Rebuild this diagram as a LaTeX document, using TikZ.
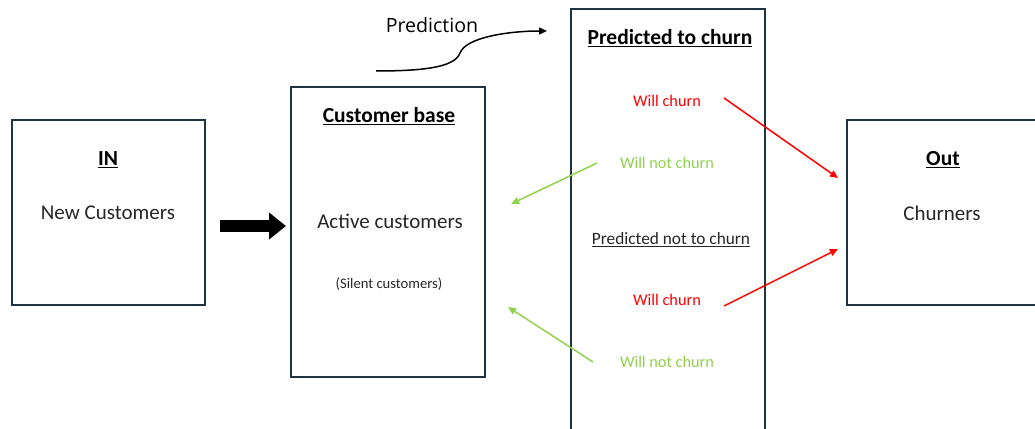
\documentclass[tikz,border=0pt]{standalone}
\usepackage{fontspec}
\setmainfont{Carlito}
\newfontfamily\predfont{Open Sans}
\usetikzlibrary{arrows.meta}
\definecolor{frame}{HTML}{1E3443}
\definecolor{ink}{HTML}{262626}
\definecolor{churnred}{HTML}{FF0000}
\definecolor{keepgreen}{HTML}{92D050}
\tikzset{
  stagebox/.style={draw=frame, line width=1.8pt, fill=none, inner sep=0pt},
  heading/.style={font=\fontsize{21.5}{24}\selectfont\bfseries, text=black, inner sep=0pt},
  body/.style={font=\fontsize{21}{24}\selectfont, text=ink, inner sep=0pt},
  smalltext/.style={font=\fontsize{16.3}{19}\selectfont, inner sep=0pt},
  flowred/.style={draw=churnred, line width=1.5pt, -{Triangle[width=7pt,length=8pt]}},
  flowgreen/.style={draw=keepgreen, line width=1.5pt, -{Triangle[width=7pt,length=8pt]}},
}
\begin{document}
\begin{tikzpicture}[x=1pt, y=-1pt]
\useasboundingbox (0,0) rectangle (1035,428);
\clip (0,0) rectangle (1035,428);

% stage boxes
\node[stagebox, minimum width=193pt, minimum height=185pt] (in) at (108.5,212.5) {};
\node[stagebox, minimum width=194pt, minimum height=290pt] (base) at (388,232) {};
\node[stagebox, minimum width=194pt, minimum height=431pt] (pred) at (668,224.5) {};
\node[stagebox, minimum width=193pt, minimum height=185pt] (out) at (943.5,212.5) {};

% box texts
\node[heading] (inT) at (108,160) {\underline{IN}};
\node[body] (inB) at (108,213) {New Customers};

\node[heading] (baseT) at (389,116) {\underline{Customer base}};
\node[body] (baseB) at (390,221) {Active customers};
\node[font=\fontsize{14.6}{17}\selectfont, text=ink, inner sep=0pt] (silent) at (389,284) {(Silent customers)};

\node[heading] (predT) at (670,38) {\underline{Predicted to churn}};
\node[smalltext, text=churnred] (wc1) at (667,101) {Will churn};
\node[smalltext, text=keepgreen] (wn1) at (667,163) {Will not churn};
\node[font=\fontsize{17.3}{20}\selectfont, text=ink, inner sep=0pt] (predN) at (671,240) {\underline{Predicted not to churn}};
\node[smalltext, text=churnred] (wc2) at (667,300) {Will churn};
\node[smalltext, text=keepgreen] (wn2) at (667,362) {Will not churn};

\node[heading] (outT) at (943,160) {\underline{Out}};
\node[body] (outB) at (942,213) {Churners};

\node[font=\predfont\fontsize{19.6}{23}\selectfont, text=black, inner sep=0pt] (predlbl) at (432,25) {Prediction};

% arrow ends
\coordinate (inArr) at (220,226);
\coordinate (baseArr) at (286,226);
\coordinate (wc1s) at (724,98);
\coordinate (out1) at (838,178);
\coordinate (wc2s) at (724,306);
\coordinate (out2) at (838,249);
\coordinate (wn1s) at (597,163);
\coordinate (base1) at (511,204);
\coordinate (wn2s) at (593,362);
\coordinate (base2) at (508,307);
\coordinate (curveS) at (376,71);
\coordinate (curveE) at (547,31);

% flows
\draw[line width=12pt, black, -{Triangle[width=26pt,length=17pt]}] (inArr) -- (baseArr);
\draw[flowred] (wc1s) -- (out1);
\draw[flowred] (wc2s) -- (out2);
\draw[flowgreen] (wn1s) -- (base1);
\draw[flowgreen] (wn2s) -- (base2);
\draw[line width=1.5pt, black, -{Triangle[width=7pt,length=8pt]}]
  (curveS) .. controls (430,71) and (455,66) .. (460,53)
           .. controls (466,37) and (510,31) .. (curveE);
\end{tikzpicture}
\end{document}
